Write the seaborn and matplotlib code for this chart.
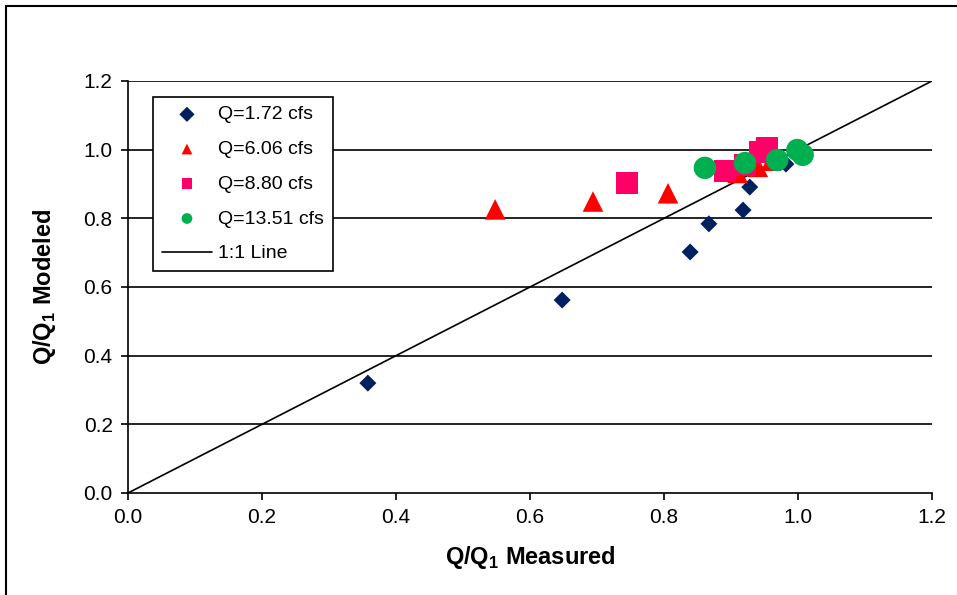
import matplotlib
matplotlib.use("Agg")
import matplotlib.pyplot as plt
import seaborn as sns
import pandas as pd
from matplotlib.patches import Rectangle

sns.set_style("white")
plt.rcParams['font.family'] = ['Liberation Sans', 'DejaVu Sans']
plt.rcParams['mathtext.fontset'] = 'custom'
plt.rcParams['mathtext.bf'] = 'Liberation Sans:bold'
plt.rcParams['mathtext.rm'] = 'Liberation Sans'
plt.rcParams['text.color'] = 'black'
plt.rcParams['axes.labelcolor'] = 'black'

# Data
q172_x = [0.358, 0.648, 0.839, 0.867, 0.918, 0.928, 0.982]
q172_y = [0.320, 0.562, 0.702, 0.784, 0.824, 0.891, 0.958]

q606_x = [0.548, 0.694, 0.806, 0.910, 0.940, 0.960]
q606_y = [0.826, 0.849, 0.873, 0.932, 0.950, 0.968]

q880_x = [0.745, 0.891, 0.921, 0.943, 0.954]
q880_y = [0.903, 0.938, 0.955, 0.993, 1.006]

q1351_x = [0.861, 0.921, 0.969, 0.999, 1.007]
q1351_y = [0.947, 0.961, 0.970, 0.999, 0.985]

labels = ['Q=1.72 cfs', 'Q=6.06 cfs', 'Q=8.80 cfs', 'Q=13.51 cfs']
one_to_one = [0.0, 1.2]

series = [
    (q172_x, q172_y, labels[0], 'D', '#002060', 75),
    (q606_x, q606_y, labels[1], '^', '#FF0000', 220),
    (q880_x, q880_y, labels[2], 's', '#FF0066', 240),
    (q1351_x, q1351_y, labels[3], 'o', '#00B050', 260),
]

fig = plt.figure(figsize=(9.57, 5.95), dpi=100)
ax = fig.add_axes([128 / 957, 1 - 493 / 595, 804 / 957, 412 / 595])

# outer chart border
fig.patches.append(Rectangle((6 / 957, -0.2), 1.2, 1.2 - 6 / 595,
                             transform=fig.transFigure, fill=False,
                             edgecolor='black', linewidth=1.5))

for yv in [0.2, 0.4, 0.6, 0.8, 1.0, 1.2]:
    ax.axhline(yv, color='black', linewidth=1.2, zorder=0)

for xs, ys, lab, mk, col, sz in series:
    df = pd.DataFrame({'x': xs, 'y': ys})
    sns.scatterplot(data=df, x='x', y='y', ax=ax, marker=mk, color=col,
                    s=sz, edgecolor='none', linewidth=0, label=lab, zorder=3)

sns.lineplot(x=one_to_one, y=one_to_one, ax=ax, color='black', linewidth=1.2,
             label='1:1 Line', zorder=2)

ax.set_xlim(0, 1.2)
ax.set_ylim(0, 1.2)
ax.set_xticks([0.0, 0.2, 0.4, 0.6, 0.8, 1.0, 1.2])
ax.set_yticks([0.0, 0.2, 0.4, 0.6, 0.8, 1.0, 1.2])
ax.xaxis.set_major_formatter(plt.FormatStrFormatter('%.1f'))
ax.yaxis.set_major_formatter(plt.FormatStrFormatter('%.1f'))
ax.tick_params(axis='both', direction='out', length=5, width=1.2, labelsize=15,
               bottom=True, left=True, colors='black', labelcolor='black', pad=6)
for side in ['top', 'right']:
    ax.spines[side].set_visible(False)
for side in ['left', 'bottom']:
    ax.spines[side].set_color('black')
    ax.spines[side].set_linewidth(1.2)

ax.set_xlabel(r'Q/Q$_\mathbf{1}$ Measured', fontsize=17, fontweight='bold', labelpad=12)
ax.set_ylabel(r'Q/Q$_\mathbf{1}$ Modeled', fontsize=17, fontweight='bold', labelpad=18)

handles, hlabels = ax.get_legend_handles_labels()
leg = ax.legend(handles, hlabels, loc='upper left', bbox_to_anchor=(0.031, 0.961),
                fontsize=14, frameon=True, fancybox=False, framealpha=1,
                edgecolor='black', borderpad=0.45, labelspacing=0.88,
                handlelength=2.6, handletextpad=0.3, markerscale=0.6,
                borderaxespad=0)
leg.get_frame().set_linewidth(1.2)
for h in leg.legend_handles[:4]:
    h.set_sizes([60])

fig.savefig('out.png', dpi=100)
